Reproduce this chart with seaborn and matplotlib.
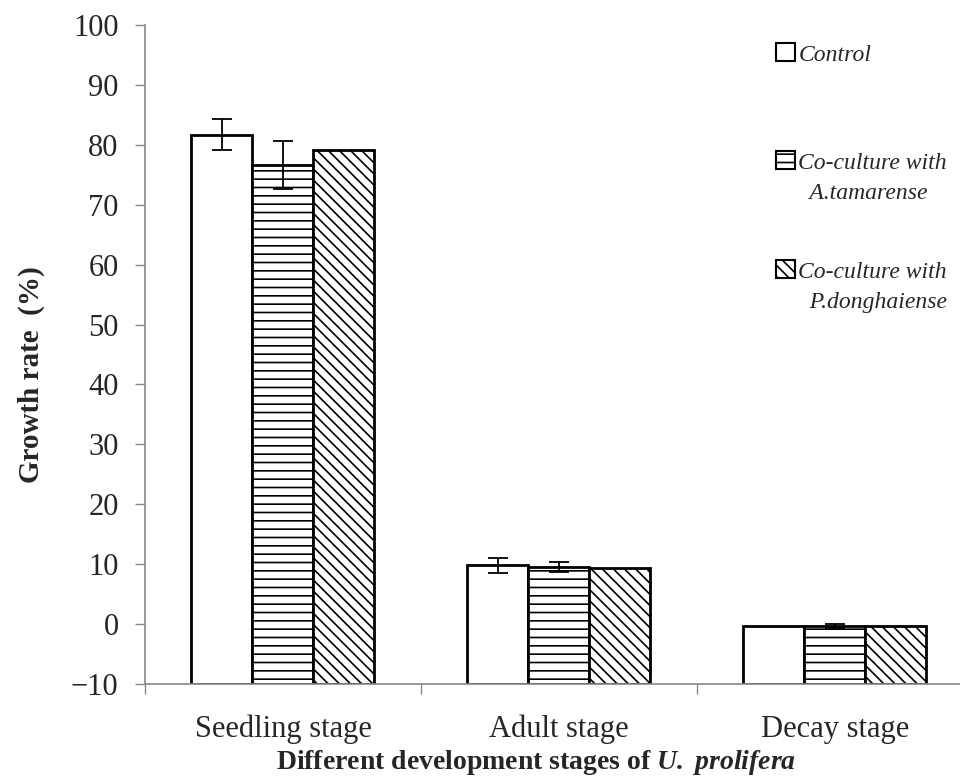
import numpy as np
import pandas as pd
import seaborn as sns
import matplotlib.pyplot as plt
from matplotlib.patches import Patch

# Growth rate of U. prolifera at three development stages
stages = ["Seedling stage", "Adult stage", "Decay stage"]
treatments = ["Control", "Co-culture with\nA.tamarense", "Co-culture with\nP.donghaiense"]
control = [81.7, 9.8, -0.3]
a_tamarense = [76.6, 9.5, -0.3]
p_donghaiense = [79.1, 9.3, -0.3]
control_err = [2.6, 1.2, 0.0]
a_tamarense_err = [4.0, 0.8, 0.3]
p_donghaiense_err = [0.0, 0.0, 0.0]
y_ticks = list(range(-10, 101, 10))

values = [control, a_tamarense, p_donghaiense]
errors = [control_err, a_tamarense_err, p_donghaiense_err]
hatches = ["", "--", "\\\\\\"]

df = pd.DataFrame({
    "stage": np.repeat([stages], 3, axis=0).ravel(),
    "treatment": np.repeat(treatments, 3),
    "rate": np.concatenate(values),
})

sns.set_theme(style="white")
plt.rcParams["font.family"] = ["Liberation Serif", "DejaVu Serif"]
plt.rcParams["mathtext.fontset"] = "custom"
plt.rcParams["mathtext.rm"] = "Liberation Serif"
plt.rcParams["mathtext.bf"] = "Liberation Serif:bold"
plt.rcParams["mathtext.it"] = "Liberation Serif:italic"
plt.rcParams["mathtext.bfit"] = "Liberation Serif:bold:italic"
plt.rcParams["hatch.linewidth"] = 1.2

fig = plt.figure(figsize=(9.6, 7.8), dpi=100)
ax = fig.add_axes([0.151, 0.123, 0.849, 0.845])

sns.barplot(data=df, x="stage", y="rate", hue="treatment", order=stages,
            hue_order=treatments, width=0.663, palette=["white"] * 3,
            saturation=1, edgecolor="black", linewidth=2.0, errorbar=None,
            legend=False, ax=ax)

# Bars rise from the bottom of the value axis (-10), with caps for the errors
for container, vals, errs, hatch in zip(ax.containers, values, errors, hatches):
    for bar, v, e in zip(container, vals, errs):
        bar.set_y(-10)
        bar.set_height(v + 10)
        bar.set_hatch(hatch)
        if e > 0:
            ax.errorbar(bar.get_x() + bar.get_width() / 2, v, yerr=e,
                        fmt="none", ecolor="black", elinewidth=1.3,
                        capsize=7, capthick=1.3, zorder=5)

ax.set_ylim(-10, 100)
ax.set_xlim(-0.5, 2.453)
ax.set_yticks(y_ticks)
ax.set_xticks(range(3))
ax.set_xticklabels(stages)
ax.set_xticks([-0.5, 0.5, 1.5], minor=True)
ax.tick_params(axis="x", which="major", length=0, pad=22, labelsize=22)
ax.tick_params(axis="x", which="minor", length=7, width=1, color="#888888",
               direction="out", bottom=True)
ax.tick_params(axis="y", length=7, width=1, color="#888888", direction="out",
               left=True, pad=12, labelsize=22)

for side in ["top", "right"]:
    ax.spines[side].set_visible(False)
for side in ["left", "bottom"]:
    ax.spines[side].set_color("#888888")
    ax.spines[side].set_linewidth(1.2)

ax.set_ylabel("Growth rate  (%)", fontsize=21, fontweight="bold")
ax.yaxis.set_label_coords(-0.123, 0.47)
ax.set_xlabel(r"Different development stages of $\mathbfit{U.}$ $\mathbfit{prolifera}$",
              fontsize=20, fontweight="bold")
ax.xaxis.set_label_coords(0.48, -0.097)

handles = [Patch(facecolor="white", edgecolor="black", hatch=h, linewidth=1.5)
           for h in hatches]
labels = ["Control\n", "Co-culture with\n  A.tamarense",
          "Co-culture with\n  P.donghaiense"]
fs = 17
ls = 1.55
leg = fig.legend(handles, labels, loc="upper left",
                 bbox_to_anchor=(0.786, 0.970), frameon=False,
                 prop={"style": "italic", "size": fs},
                 handlelength=0.8, handleheight=0.8, handletextpad=0.15,
                 labelspacing=2.45)
for t in leg.get_texts():
    t.set_linespacing(ls)
# put each swatch beside the first line of its label
for h in leg.legend_handles:
    h.set_y(h.get_y() + fs * ls / 2)

fig.savefig("out.png", dpi=100)
